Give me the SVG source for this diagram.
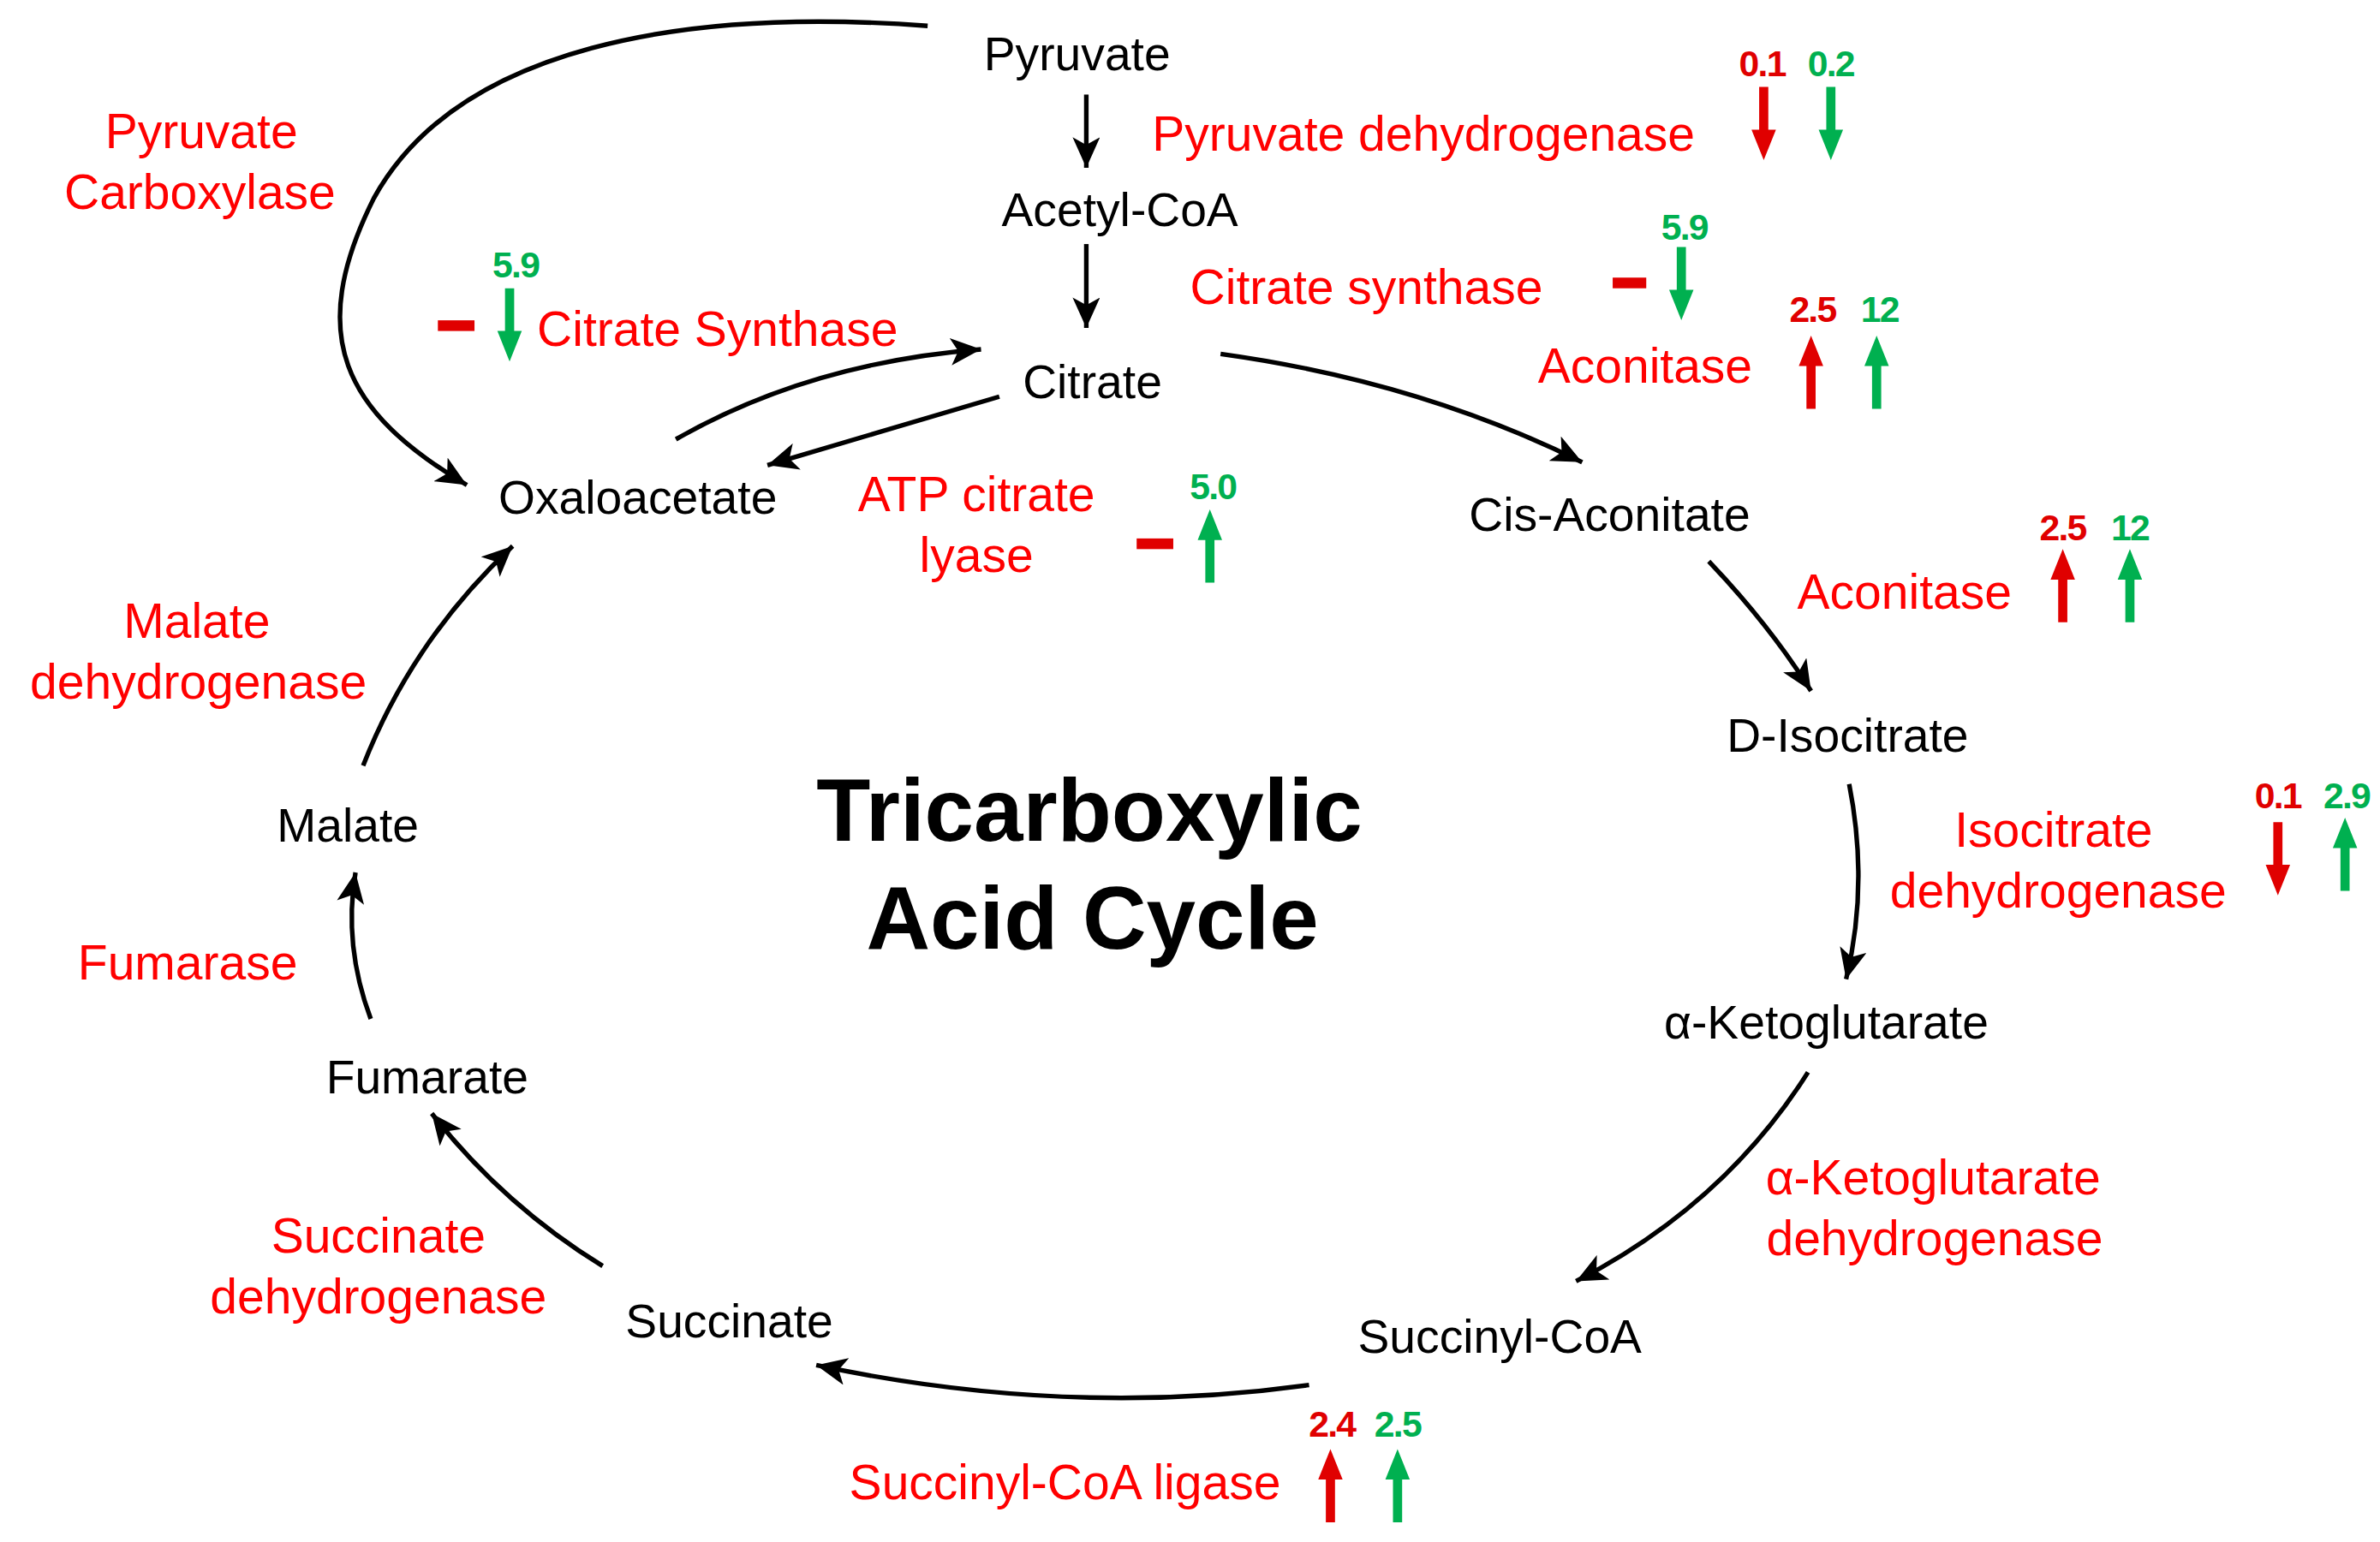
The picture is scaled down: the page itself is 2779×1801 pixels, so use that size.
<svg xmlns="http://www.w3.org/2000/svg" width="2779" height="1801" viewBox="0 0 2779 1801">
<style>
.n{font-family:"Liberation Sans",Arial,sans-serif;font-size:31px;fill:#000;text-anchor:middle}
.e{font-family:"Liberation Sans",Arial,sans-serif;font-size:32px;fill:#f00;text-anchor:middle}
.v{font-family:"Liberation Sans",Arial,sans-serif;font-size:24px;font-weight:bold;text-anchor:middle;letter-spacing:-1px}
.r{fill:#e00000}.g{fill:#00b050}
.t{font-family:"Liberation Sans",Arial,sans-serif;font-size:58px;font-weight:bold;fill:#000;text-anchor:middle}
.c{fill:none;stroke:#000;stroke-width:3;marker-end:url(#ah)}
</style>
<defs>
<marker id="ah" markerUnits="userSpaceOnUse" markerWidth="22" markerHeight="18" refX="20" refY="9" orient="auto"><path d="M0,0 L20,9 L0,18 L5,9 Z" fill="#000"/></marker>
<path id="dn" d="M-3,0 H3 V28 H8 L0,48 L-8,28 H-3 Z"/>
<path id="up" d="M-3,48 H3 V20 H8 L0,0 L-8,20 H-3 Z"/>
</defs>
<rect width="2779" height="1801" fill="#fff"/>
<g transform="scale(1.7815)">
<g id="connectors">
<path class="c" d="M608,17 C450,5 300,30 245,130 C200,220 225,270 306,318"/>
<path class="c" d="M712,62 L712,110"/>
<path class="c" d="M712,160 L712,215"/>
<path class="c" d="M443,288 Q530,238 643,229"/>
<path class="c" d="M655,260 L503,305"/>
<path class="c" d="M800,232 Q930,250 1037,303"/>
<path class="c" d="M1120,368 Q1160,410 1187,453"/>
<path class="c" d="M1212,514 Q1225,580 1210,642"/>
<path class="c" d="M1185,703 Q1130,790 1033,840"/>
<path class="c" d="M858,908 Q700,930 535,895"/>
<path class="c" d="M395,830 Q330,790 283,730"/>
<path class="c" d="M243,668 Q225,620 233,572"/>
<path class="c" d="M238,502 Q270,420 336,358"/>
</g>
<g id="pyruvate"><text class="n" x="706" y="46">Pyruvate</text></g>
<g id="acetylcoa"><text class="n" x="734" y="148">Acetyl-CoA</text></g>
<g id="citrate"><text class="n" x="716" y="261">Citrate</text></g>
<g id="oxaloacetate"><text class="n" x="418" y="337">Oxaloacetate</text></g>
<g id="cisaconitate"><text class="n" x="1055" y="348">Cis-Aconitate</text></g>
<g id="disocitrate"><text class="n" x="1211" y="493">D-Isocitrate</text></g>
<g id="akg"><text class="n" x="1197" y="681">α-Ketoglutarate</text></g>
<g id="succinylcoa"><text class="n" x="983" y="887">Succinyl-CoA</text></g>
<g id="succinate"><text class="n" x="478" y="877">Succinate</text></g>
<g id="fumarate"><text class="n" x="280" y="717">Fumarate</text></g>
<g id="malate"><text class="n" x="228" y="552">Malate</text></g>
<g id="title"><text class="t" x="714" y="551">Tricarboxylic</text><text class="t" x="716" y="622">Acid Cycle</text></g>
<g id="enzymes">
<text class="e" x="132" y="97">Pyruvate</text><text class="e" x="131" y="137">Carboxylase</text>
<text class="e" x="933" y="99">Pyruvate dehydrogenase</text>
<text class="e" x="352" y="227" style="text-anchor:start">Citrate Synthase</text>
<text class="e" x="780" y="199" style="text-anchor:start">Citrate synthase</text>
<text class="e" x="1008" y="251" style="text-anchor:start">Aconitase</text>
<text class="e" x="640" y="335">ATP citrate</text><text class="e" x="640" y="375">lyase</text>
<text class="e" x="1178" y="399" style="text-anchor:start">Aconitase</text>
<text class="e" x="1346" y="555">Isocitrate</text><text class="e" x="1349" y="595">dehydrogenase</text>
<text class="e" x="129" y="418">Malate</text><text class="e" x="130" y="458">dehydrogenase</text>
<text class="e" x="123" y="642">Fumarase</text>
<text class="e" x="1267" y="783">α-Ketoglutarate</text><text class="e" x="1268" y="823">dehydrogenase</text>
<text class="e" x="248" y="821">Succinate</text><text class="e" x="248" y="861">dehydrogenase</text>
<text class="e" x="698" y="983">Succinyl-CoA ligase</text>
</g>
<g id="changes">
<text class="v r" x="1155" y="50">0.1</text><text class="v g" x="1200" y="50">0.2</text>
<use href="#dn" class="r" x="1156" y="57"/><use href="#dn" class="g" x="1200" y="57"/>
<rect class="r" x="1057" y="182" width="22" height="7"/>
<text class="v g" x="1104" y="157">5.9</text><use href="#dn" class="g" x="1102" y="162"/>
<text class="v r" x="1188" y="211">2.5</text><text class="v g" x="1232" y="211">12</text>
<use href="#up" class="r" x="1187" y="220"/><use href="#up" class="g" x="1230" y="220"/>
<rect class="r" x="287" y="210" width="24" height="7"/>
<text class="v g" x="338" y="182">5.9</text><use href="#dn" class="g" x="334" y="189"/>
<rect class="r" x="745" y="353" width="24" height="7"/>
<text class="v g" x="795" y="327">5.0</text><use href="#up" class="g" x="793" y="334"/>
<text class="v r" x="1352" y="354">2.5</text><text class="v g" x="1396" y="354">12</text>
<use href="#up" class="r" x="1352" y="360"/><use href="#up" class="g" x="1396" y="360"/>
<text class="v r" x="1493" y="530">0.1</text><text class="v g" x="1538" y="530">2.9</text>
<use href="#dn" class="r" x="1493" y="539"/><use href="#up" class="g" x="1537" y="536"/>
<text class="v r" x="873" y="942">2.4</text><text class="v g" x="916" y="942">2.5</text>
<use href="#up" class="r" x="872" y="950"/><use href="#up" class="g" x="916" y="950"/>
</g>
</g>
</svg>
